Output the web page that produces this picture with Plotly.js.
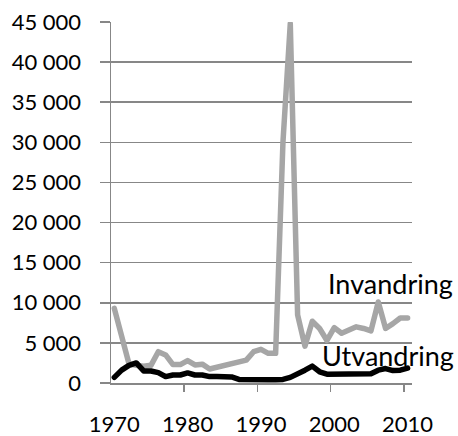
<!DOCTYPE html>
<html>
<head>
<meta charset="utf-8">
<script src="https://cdn.plot.ly/plotly-3.0.1.min.js"></script>
<style>
html,body{margin:0;padding:0;background:#fff;}
#chart{width:458px;height:436px;}
.js-line{stroke-linejoin:round;stroke-linecap:round;}
</style>
</head>
<body>
<div id="chart"></div>
<script>
const years = [1970,1971,1972,1973,1974,1975,1976,1977,1978,1979,
  1980,1981,1982,1983,1984,1985,1986,1987,1988,1989,
  1990,1991,1992,1993,1994,1995,1996,1997,1998,1999,
  2000,2001,2002,2003,2004,2005,2006,2007,2008,2009,2010];

const invandring = [9300,5500,2400,2200,2100,2200,3900,3500,2300,2300,
  2800,2250,2350,1750,1950,2250,2500,2600,2850,3900,
  4200,3700,3700,30000,44800,8500,4600,7700,6800,5300,
  6900,6200,6600,7000,6800,6500,10100,6800,7400,8100,8100];

const utvandring = [700,1600,2200,2500,1500,1500,1300,800,1000,1000,
  1250,1000,1000,800,800,800,750,450,400,400,
  400,400,400,450,700,1100,1600,2100,1400,1100,
  1100,1100,1100,1100,1100,1150,1600,1800,1550,1600,1850];

const seriesNames = ["Invandring", "Utvandring"];
const yTickVals = [0,5000,10000,15000,20000,25000,30000,35000,40000,45000];
const yTickLabels = ["0","5 000","10 000","15 000","20 000","25 000","30 000","35 000","40 000","45 000"];

const FONT = "Lato, 'Open Sans', sans-serif";
const GRID = "#878787";

const traces = [
  {x: years, y: invandring, type: "scatter", mode: "lines", name: seriesNames[0],
   line: {color: "#a6a6a6", width: 5.5}, hoverinfo: "skip"},
  {x: years, y: utvandring, type: "scatter", mode: "lines", name: seriesNames[1],
   line: {color: "#000000", width: 5.5}, hoverinfo: "skip"}
];

const layout = {
  width: 458, height: 436,
  margin: {l: 111, r: 46, t: 22, b: 53, pad: 0},
  paper_bgcolor: "#ffffff", plot_bgcolor: "#ffffff",
  showlegend: false,
  font: {family: FONT, size: 22, color: "#000"},
  xaxis: {
    type: "category",
    range: [-0.45, 40.6],
    tickmode: "linear", tick0: 0, dtick: 10,
    tickson: "boundaries",
    tickangle: 0,
    ticks: "outside", ticklen: 7, tickwidth: 1.5, tickcolor: GRID,
    showgrid: false, zeroline: false,
    showline: true, linecolor: GRID, linewidth: 1.5,
    ticklabelstandoff: 21,
    tickfont: {family: FONT, size: 22, color: "#000"}
  },
  yaxis: {
    range: [0, 45000],
    tickmode: "array", tickvals: yTickVals, ticktext: yTickLabels,
    ticks: "outside", ticklen: 10, tickwidth: 1.5, tickcolor: GRID,
    showgrid: true, gridcolor: GRID, gridwidth: 1.5,
    zeroline: false,
    showline: true, linecolor: GRID, linewidth: 1.5,
    ticklabelstandoff: 14,
    tickfont: {family: FONT, size: 22, color: "#000"}
  },
  annotations: [
    {text: seriesNames[0], xref: "paper", yref: "paper", x: 0.927, y: 0.277,
     xanchor: "center", yanchor: "middle", showarrow: false,
     font: {family: FONT, size: 27, color: "#000"}},
    {text: seriesNames[1], xref: "paper", yref: "paper", x: 0.921, y: 0.076,
     xanchor: "center", yanchor: "middle", showarrow: false,
     font: {family: FONT, size: 27, color: "#000"}}
  ]
};

Plotly.newPlot("chart", traces, layout, {staticPlot: true, displayModeBar: false});
</script>
</body>
</html>
